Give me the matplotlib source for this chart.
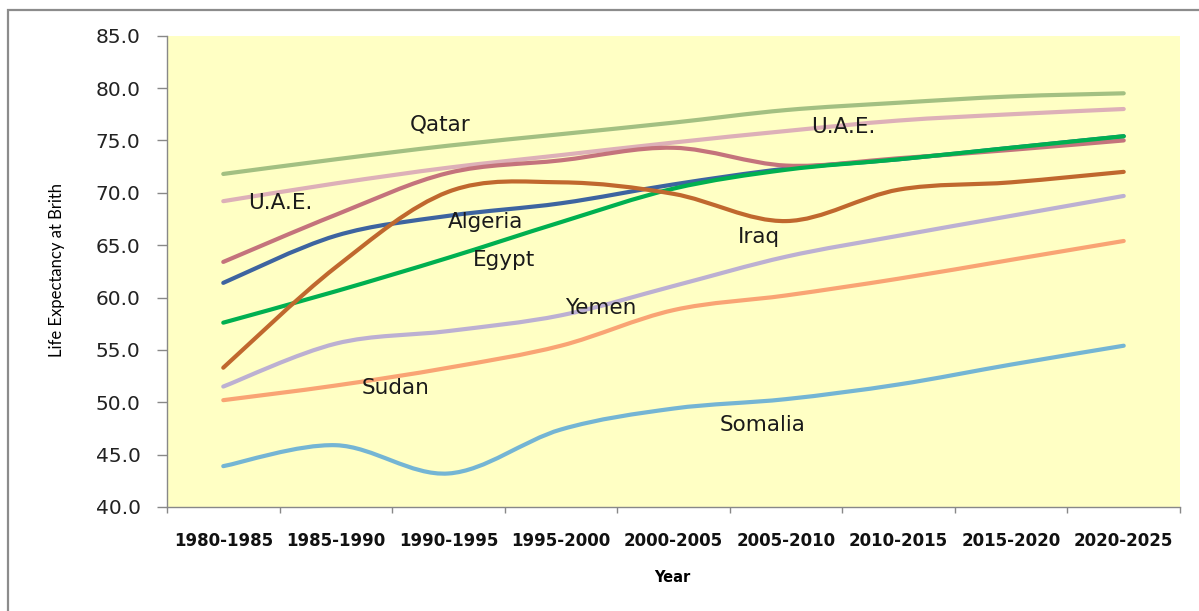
import numpy as np
import matplotlib.pyplot as plt
from matplotlib.path import Path
from matplotlib.patches import PathPatch, Rectangle

periods = ['1980-1985', '1985-1990', '1990-1995', '1995-2000', '2000-2005',
           '2005-2010', '2010-2015', '2015-2020', '2020-2025']

# life expectancy
qatar = [71.8, 73.2, 74.5, 75.6, 76.7, 77.9, 78.6, 79.2, 79.5]
uae = [69.2, 70.9, 72.4, 73.6, 74.8, 75.9, 76.9, 77.5, 78.0]
other = [63.4, 67.9, 71.9, 73.1, 74.3, 72.6, 73.3, 74.1, 75.0]
algeria = [61.4, 65.9, 67.8, 69.0, 70.8, 72.3, 73.2, 74.3, 75.4]
egypt = [57.6, 60.6, 63.8, 67.2, 70.4, 72.2, 73.2, 74.3, 75.4]
iraq = [53.3, 62.9, 70.1, 71.0, 69.9, 67.3, 70.3, 71.0, 72.0]
yemen = [51.5, 55.6, 56.8, 58.3, 61.1, 63.9, 65.9, 67.8, 69.7]
sudan = [50.2, 51.6, 53.3, 55.4, 58.8, 60.2, 61.8, 63.6, 65.4]
somalia = [43.9, 45.9, 43.2, 47.4, 49.4, 50.3, 51.7, 53.6, 55.4]

series = [
    (qatar, '#A3C082'),
    (uae, '#DDB0B8'),
    (algeria, '#3D64A0'),
    (other, '#C4737C'),
    (egypt, '#00B050'),
    (iraq, '#C0682E'),
    (yemen, '#BCB0D2'),
    (sudan, '#F9A474'),
    (somalia, '#74B5D4'),
]

# label text, position (category index, value)
labels = [
    ('Qatar', 1.93, 76.5),
    ('U.A.E.', 0.51, 69.0),
    ('U.A.E.', 5.51, 76.3),
    ('Algeria', 2.33, 67.2),
    ('Egypt', 2.49, 63.6),
    ('Iraq', 4.76, 65.8),
    ('Yemen', 3.35, 59.0),
    ('Sudan', 1.53, 51.4),
    ('Somalia', 4.79, 47.8),
]


def smooth_path(y):
    # excel-like smoothed line: bezier segments with catmull-rom handles
    pts = np.column_stack([np.arange(len(y)), y]).astype(float)
    verts = [pts[0]]
    codes = [Path.MOVETO]
    n = len(pts)
    for i in range(n - 1):
        p0 = pts[i - 1] if i > 0 else pts[i]
        p3 = pts[i + 2] if i + 2 < n else pts[i + 1]
        c1 = pts[i] + (pts[i + 1] - p0) / 6
        c2 = pts[i + 1] - (p3 - pts[i]) / 6
        verts += [c1, c2, pts[i + 1]]
        codes += [Path.CURVE4] * 3
    return Path(verts, codes)


fig = plt.figure(figsize=(11.99, 6.11), dpi=100)
ax = fig.add_axes([167 / 1199, 1 - 507 / 611, (1180 - 167) / 1199, (507 - 35.7) / 611])
ax.set_facecolor('#FFFFC4')

for vals, col in series:
    ax.add_patch(PathPatch(smooth_path(vals), fill=False, edgecolor=col, lw=3,
                           capstyle='round', joinstyle='round'))

for txt, xi, yv in labels:
    ax.text(xi, yv, txt, ha='center', va='center', fontsize=15.5, color='#1a1a1a')

ax.set_xlim(-0.5, len(periods) - 0.5)
ax.set_ylim(40, 85)
ax.set_yticks(np.arange(40, 86, 5))
ax.set_yticklabels([f'{v:.1f}' for v in np.arange(40, 86, 5)])
ax.set_xticks(range(len(periods)))
ax.set_xticklabels(periods, fontweight='bold')
ax.set_xticks(np.arange(-0.5, len(periods), 1), minor=True)

ax.tick_params(axis='y', length=7, width=1, color='#888888', pad=12, labelsize=14.5,
               labelcolor='#222222')
ax.tick_params(axis='x', which='major', length=0, pad=18, labelsize=12, labelcolor='#111111')
ax.tick_params(axis='x', which='minor', length=4, width=1, color='#888888')

for side in ['top', 'right']:
    ax.spines[side].set_visible(False)
for side in ['left', 'bottom']:
    ax.spines[side].set_color('#888888')
    ax.spines[side].set_linewidth(1)

fig.text(57 / 1199, 1 - 270 / 611, 'Life Expectancy at Brith', rotation=90,
         ha='center', va='center', fontsize=12, family=['Lato', 'DejaVu Sans'])
fig.text(672 / 1199, 1 - 578 / 611, 'Year', ha='center', va='center',
         fontsize=10.5, fontweight='bold')

# outer chart frame
fig.patches.append(Rectangle((8 / 1199, -0.05), 1.1, 1 - 10 / 611 + 0.05,
                             transform=fig.transFigure, fill=False,
                             edgecolor='#8C8C8C', lw=1.6))

fig.savefig('out.png', dpi=100)
